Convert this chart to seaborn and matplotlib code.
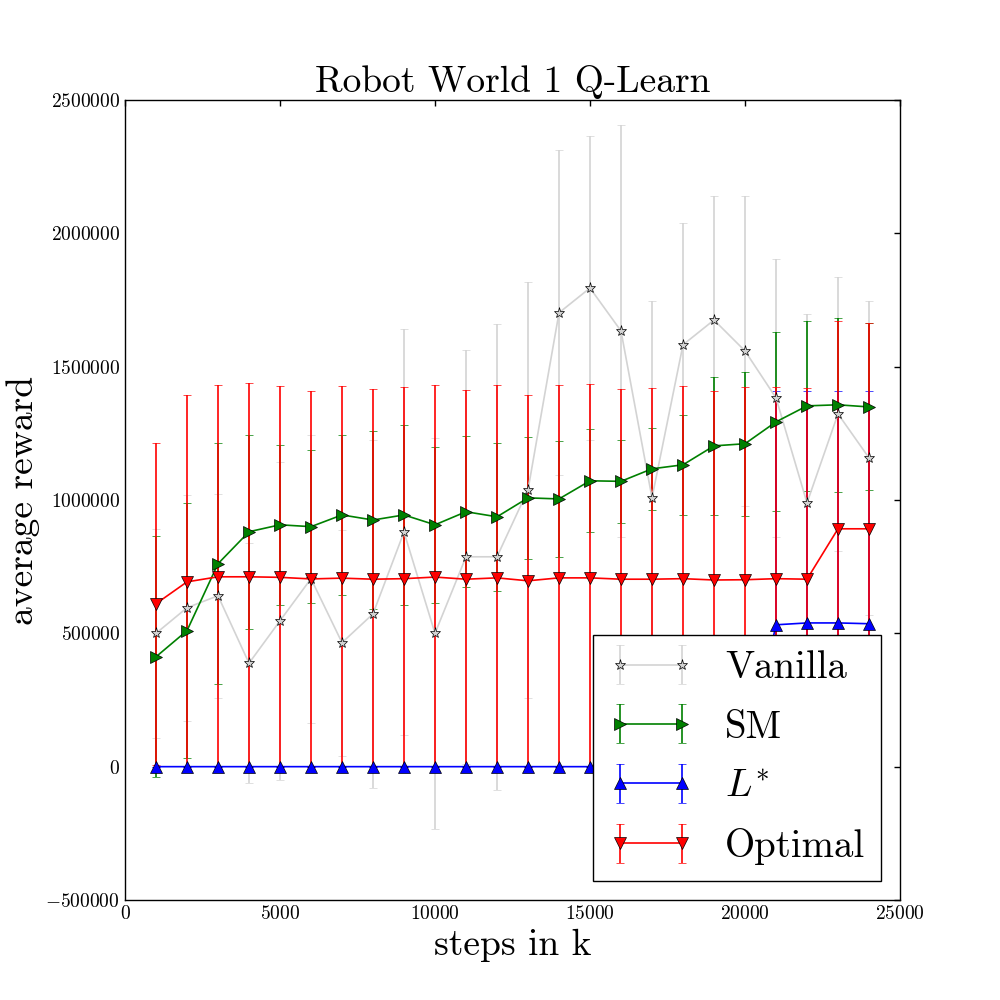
import matplotlib
matplotlib.use("Agg")
import matplotlib.pyplot as plt
import seaborn as sns
import numpy as np

# steps (in k) at which each run was evaluated
steps = [1000, 2000, 3000, 4000, 5000, 6000, 7000, 8000, 9000, 10000, 11000, 12000,
         13000, 14000, 15000, 16000, 17000, 18000, 19000, 20000, 21000, 22000, 23000, 24000]

vanilla_mean = [500000, 596000, 641000, 388000, 547000, 705000, 465000, 573000, 880000, 500000,
                787000, 787000, 1038000, 1702000, 1795000, 1634000, 1008000, 1582000, 1675000,
                1559000, 1383000, 989000, 1323000, 1158000]
vanilla_std = [392000, 424000, 382000, 450000, 596000, 540000, 424000, 652000, 763000, 733000,
               776000, 873000, 780000, 610000, 570000, 772000, 739000, 457000, 465000,
               581000, 521000, 709000, 513000, 589000]

sm_mean = [412000, 510000, 761000, 881000, 907000, 900000, 944000, 925000, 944000, 907000,
           956000, 937000, 1008000, 1004000, 1072000, 1070000, 1117000, 1132000, 1203000,
           1211000, 1293000, 1353000, 1357000, 1349000]
sm_std = [452000, 477000, 452000, 363000, 300000, 287000, 300000, 335000, 338000, 292000,
          283000, 277000, 229000, 216000, 193000, 155000, 153000, 188000, 259000,
          270000, 336000, 319000, 326000, 313000]

lstar_mean = [0] * 20 + [532000, 539000, 539000, 536000]
lstar_std = [0] * 20 + [877000, 870000, 870000, 873000]

optimal_mean = [611000, 693000, 712000, 712000, 710000, 704000, 707000, 703000, 705000, 711000,
                703000, 708000, 697000, 708000, 708000, 703000, 703000, 705000, 700000,
                701000, 705000, 703000, 892000, 892000]
optimal_std = [603000, 700000, 720000, 727000, 719000, 705000, 722000, 714000, 719000, 721000,
               710000, 724000, 697000, 724000, 727000, 714000, 717000, 723000, 709000,
               723000, 719000, 717000, 780000, 772000]

sns.set_theme(style="white")
plt.rcParams.update({
    "font.family": "serif",
    "font.serif": ["cmr10"],
    "mathtext.fontset": "cm",
    "axes.formatter.use_mathtext": True,
    "text.color": "black",
    "axes.labelcolor": "black",
    "axes.edgecolor": "black",
    "axes.linewidth": 1.0,
    "xtick.color": "black",
    "ytick.color": "black",
    "xtick.labelsize": 14,
    "ytick.labelsize": 14,
})

fig, ax = plt.subplots(figsize=(10, 10), dpi=100)
fig.subplots_adjust(left=0.125, right=0.9, bottom=0.1, top=0.9)

series = [
    ("Vanilla", vanilla_mean, vanilla_std, "lightgrey", "*", 8),
    ("SM", sm_mean, sm_std, "green", ">", 8),
    ("$L^{{*}}$", lstar_mean, lstar_std, "blue", "^", 8),
    ("Optimal", optimal_mean, optimal_std, "red", "v", 8),
]

for label, mean, std, color, marker, ms in series:
    ax.errorbar(steps, mean, yerr=std, color=color, marker=marker, markersize=ms,
                markeredgecolor="black", markeredgewidth=0.5, linewidth=1.2,
                elinewidth=1.2, capsize=3, label=label)

ax.set_xlim(0, 25000)
ax.set_ylim(-500000, 2500000)
ax.ticklabel_format(style="plain", useOffset=False)
ax.tick_params(which="both", direction="in", top=True, right=True, length=4, width=1)

ax.set_title("Robot World 1 Q-Learn", fontsize=27)
ax.set_xlabel("steps in k", fontsize=27)
ax.set_ylabel("average reward", fontsize=27)

leg = ax.legend(loc="lower right", fontsize=28, numpoints=2, fancybox=False,
                frameon=True, framealpha=1.0, edgecolor="black", borderpad=0.4,
                labelspacing=0.6, handlelength=2.2)
leg.get_frame().set_linewidth(1.0)

plt.savefig("out.png", dpi=100)
plt.close()
